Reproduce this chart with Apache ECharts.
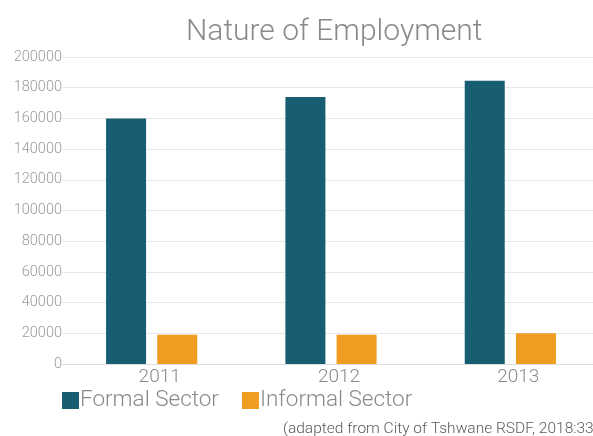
<!DOCTYPE html>
<html><head><meta charset="utf-8">
<script src="https://cdn.jsdelivr.net/npm/echarts@6/dist/echarts.min.js"></script>
<style>html,body{margin:0;padding:0;background:#fff;overflow:hidden;width:593px;height:436px}#c{width:600px;height:436px}</style>
</head><body><div id="c"></div>
<script>
const categories = ['2011', '2012', '2013'];
const formalSector = [160000, 174000, 184500];
const informalSector = [19000, 19000, 20000];
const yTicks = [0, 20000, 40000, 60000, 80000, 100000, 120000, 140000, 160000, 180000, 200000];

const FONT = 'Roboto';
const chart = echarts.init(document.getElementById('c'));
chart.setOption({
  animation: false,
  title: {
    text: 'Nature of Employment', left: 181, top: 12,
    textStyle: {fontFamily: FONT, fontWeight: 300, fontSize: 30, color: '#8a8a8a'}
  },
  legend: {
    left: 57, top: 384, itemWidth: 17, itemHeight: 17, itemGap: 23, icon: 'rect',
    textStyle: {fontFamily: FONT, fontWeight: 300, fontSize: 22.5, color: '#8a8a8a', padding: [0, 0, 0, -4]}
  },
  graphic: [{
    type: 'text', left: 283, top: 421,
    style: {text: '(adapted from City of Tshwane RSDF, 2018:33)', font: '300 15.5px Roboto', fill: '#5a5a5a'}
  }],
  grid: {left: 62, right: 0, top: 57, bottom: 72, containLabel: false},
  xAxis: {
    type: 'category', data: categories,
    axisLine: {show: true, lineStyle: {color: '#dcdcdc', width: 1}},
    axisTick: {show: false},
    axisLabel: {fontFamily: FONT, fontWeight: 300, fontSize: 19, color: '#8a8a8a', margin: 4,
      padding: [0, 0, 0, 16]}
  },
  yAxis: {
    type: 'value', min: yTicks[0], max: yTicks[yTicks.length - 1], interval: 20000,
    axisLine: {show: false}, axisTick: {show: false},
    axisLabel: {fontFamily: FONT, fontWeight: 300, fontSize: 14.5, color: '#9a9a9a', margin: 0,
      formatter: v => String(v)},
    splitLine: {lineStyle: {color: '#e8e8e8', width: 1}}
  },
  series: [
    {name: 'Formal Sector', type: 'bar', data: formalSector, barWidth: 40, barGap: '28%',
      itemStyle: {color: '#185e72'}},
    {name: 'Informal Sector', type: 'bar', data: informalSector, barWidth: 40,
      itemStyle: {color: '#f09c21'}}
  ]
});
</script></body></html>
